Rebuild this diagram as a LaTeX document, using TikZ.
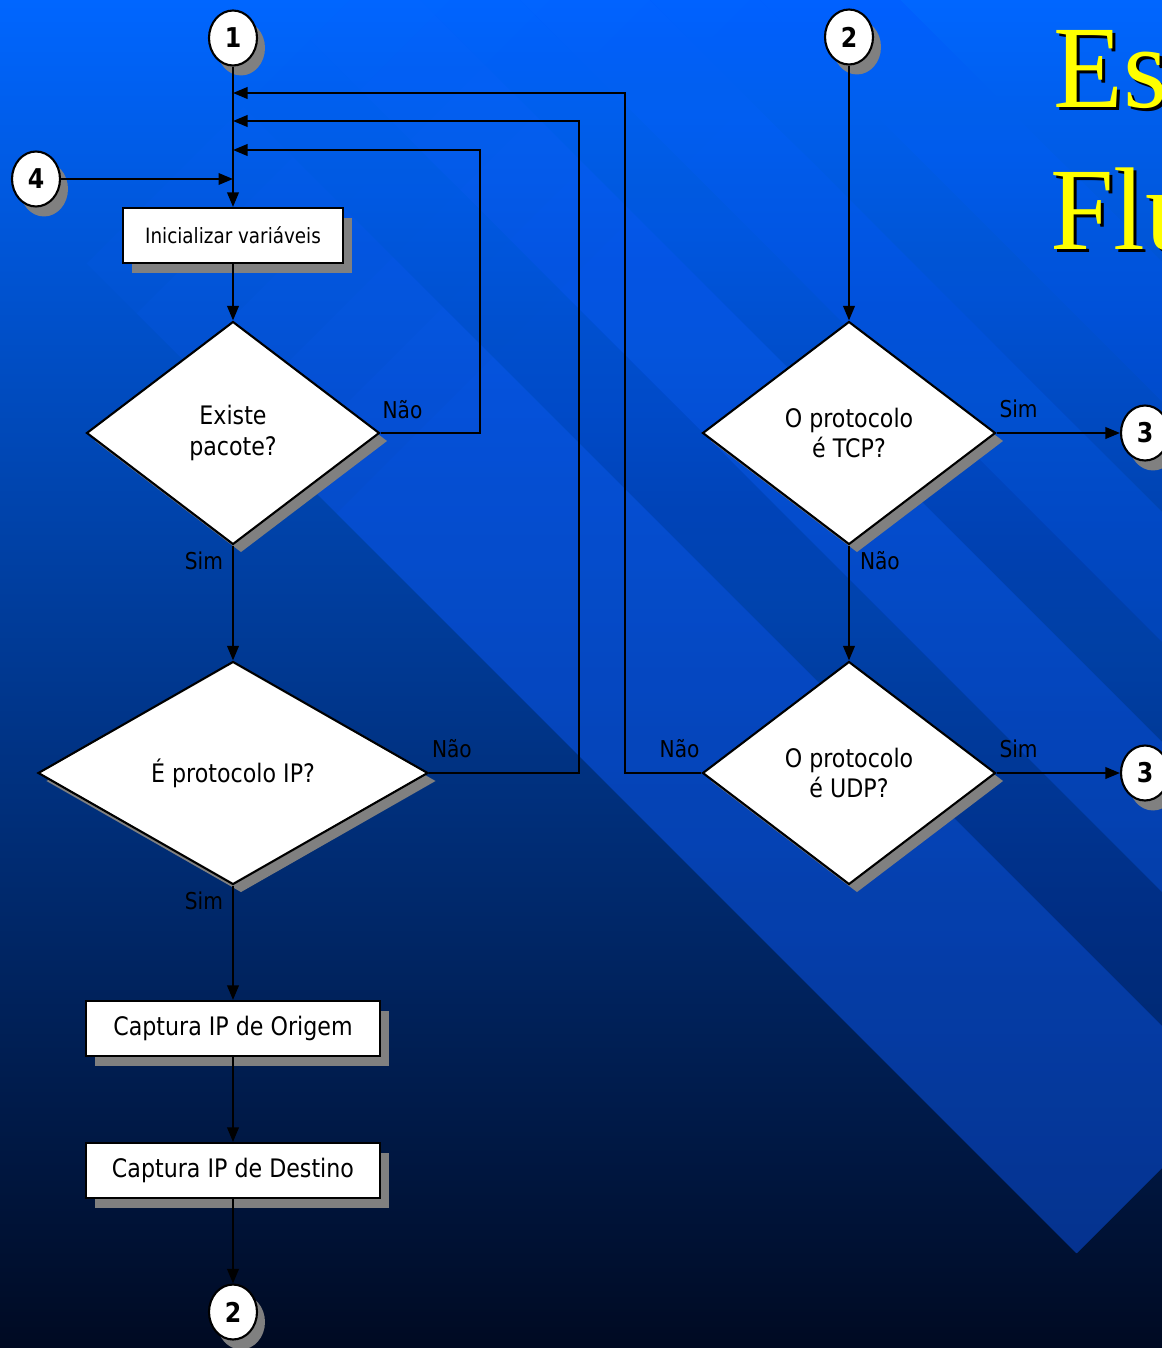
\documentclass[tikz,border=0pt]{standalone}
\usepackage{fontspec}
\newfontfamily\flowfont{DejaVu Sans}[FakeStretch=0.87]
\newfontfamily\titlefont{Liberation Serif}[FakeStretch=0.97]
\usepackage{tikz}
\usetikzlibrary{shapes.geometric,positioning,calc,arrows.meta,shadows}
\definecolor{bgtop}{HTML}{0066FF}
\definecolor{bgmid}{HTML}{0046BC}
\definecolor{bgbot}{HTML}{000A22}
\definecolor{bandblue}{HTML}{0F5FFF}
\definecolor{shadowgray}{HTML}{808080}
\definecolor{titleyellow}{HTML}{FFFF00}
\newcommand{\shadowtitle}[1]{\makebox[0pt][l]{\hspace{0.06cm}\raisebox{-0.06cm}{\color{black}#1}}#1}

\begin{document}
\begin{tikzpicture}[x=0.02cm, y=-0.02cm,
    procbox/.style={rectangle, draw=black, line width=1.2pt, fill=white,
                 minimum height=1.1cm, inner sep=0pt,
                 font=\flowfont\fontsize{14.5}{17.5}\selectfont,
                 drop shadow={shadow xshift=0.18cm, shadow yshift=-0.2cm, opacity=1, fill=shadowgray}},
    decision/.style={diamond, draw=black, line width=1.2pt, fill=white, aspect=1.3,
                 minimum width=5.86cm, minimum height=4.46cm, inner sep=0pt, align=center,
                 font=\flowfont\fontsize{14.5}{17.5}\selectfont,
                 drop shadow={shadow xshift=0.16cm, shadow yshift=-0.16cm, opacity=1, fill=shadowgray}},
    connector/.style={ellipse, draw=black, line width=1.2pt, fill=white,
                 minimum width=0.96cm, minimum height=1.1cm, inner sep=0pt,
                 font=\flowfont\bfseries\fontsize{15.5}{16}\selectfont,
                 drop shadow={shadow xshift=0.16cm, shadow yshift=-0.2cm, opacity=1, fill=shadowgray}},
    flow/.style={draw=black, line width=1.15pt, -{Triangle[width=0.23cm,length=0.29cm]}},
    lbl/.style={font=\flowfont\fontsize{13.2}{15}\selectfont, inner sep=0pt},
    titletext/.style={font=\titlefont\fontsize{67}{67}\selectfont, text=titleyellow,
                 anchor=base west, inner sep=0pt},
  ]
  \clip (0,0) rectangle (1162,1348);

  % background
  \shade[top color=bgtop, middle color=bgmid, bottom color=bgbot] (0,0) rectangle (1162,1348);
  \foreach \s in {350,450,...,850} {
    \begin{scope}
      \clip (\s,0) -- (1162,0) -- (1162,1168) -- (1077,1253) -- (0,1253) -- (0,\s) -- cycle;
      \foreach \ca/\cb/\op in {-136/177/0.6, -270/-136/0.22, -420/-270/0.55, -520/-420/0.2,
                               -650/-520/0.4, -760/-650/0.15, -900/-760/0.3} {
        \pgfmathsetmacro\bandop{\op/6}
        \fill[bandblue, opacity=\bandop] (-200,-200+\ca) -- (1400,1400+\ca) -- (1400,1400+\cb) -- (-200,-200+\cb) -- cycle;
      }
    \end{scope}
  }

  % title
  \node[titletext] (tit1) at (1053,108) {\shadowtitle{Es}};
  \node[titletext] (tit2) at (1050,250) {\shadowtitle{Flu}};

  % left column
  \node[connector] (c1) at (233,38) {1};
  \node[connector] (c4) at (36,179) {4};
  \node[procbox, minimum width=4.4cm, font=\flowfont\fontsize{12}{14}\selectfont] (ini) at (233,235.5) {Inicializar variáveis};
  \node[decision] (exist) at (233,433) {Existe\\pacote?};
  \node[decision, minimum width=7.8cm] (ipq) at (233,773) {É protocolo IP?};
  \node[procbox, minimum width=5.88cm] (orig) at (233,1028.5) {Captura IP de Origem};
  \node[procbox, minimum width=5.88cm] (dest) at (233,1170.5) {Captura IP de Destino};
  \node[connector] (c2b) at (233,1312) {2};

  % right column
  \node[connector] (c2) at (849,37) {2};
  \node[decision] (tcp) at (849,433) {O protocolo\\é TCP?};
  \node[decision] (udp) at (849,773) {O protocolo\\é UDP?};
  \node[connector] (c3a) at (1145,433) {3};
  \node[connector] (c3b) at (1145,773) {3};

  \coordinate (j1) at (233,93);
  \coordinate (j2) at (233,121);
  \coordinate (j3) at (233,150);
  \coordinate (j4) at (233,179);

  \draw[flow] (c1) -- (ini);
  \draw[flow] (c4) -- (j4);
  \draw[flow] (ini) -- (exist);
  \draw[flow] (exist) -- node[lbl, pos=0, anchor=north east, xshift=-0.18cm, yshift=-0.1cm] {Sim} (ipq);
  \draw[flow] (ipq) -- node[lbl, pos=0, anchor=north east, xshift=-0.18cm, yshift=-0.1cm] {Sim} (orig);
  \draw[flow] (orig) -- (dest);
  \draw[flow] (dest) -- (c2b);
  \draw[flow] (exist.east) -- node[lbl, pos=0, anchor=south west, xshift=0.02cm, yshift=0.26cm] {Não} ++(99,0) |- (j3);
  \draw[flow] (ipq.east) -- node[lbl, pos=0, anchor=south west, xshift=0.04cm, yshift=0.28cm] {Não} ++(150,0) |- (j2);
  \draw[flow] (udp.west) -- node[lbl, pos=0, anchor=south east, xshift=-0.02cm, yshift=0.28cm] {Não} ++(-76,0) |- (j1);

  \draw[flow] (c2) -- (tcp);
  \draw[flow] (tcp) -- node[lbl, pos=0, anchor=north west, xshift=0.2cm, yshift=-0.1cm] {Não} (udp);
  \draw[flow] (tcp) -- node[lbl, pos=0, anchor=south west, xshift=0.04cm, yshift=0.28cm] {Sim} (c3a);
  \draw[flow] (udp) -- node[lbl, pos=0, anchor=south west, xshift=0.04cm, yshift=0.28cm] {Sim} (c3b);
\end{tikzpicture}
\end{document}
